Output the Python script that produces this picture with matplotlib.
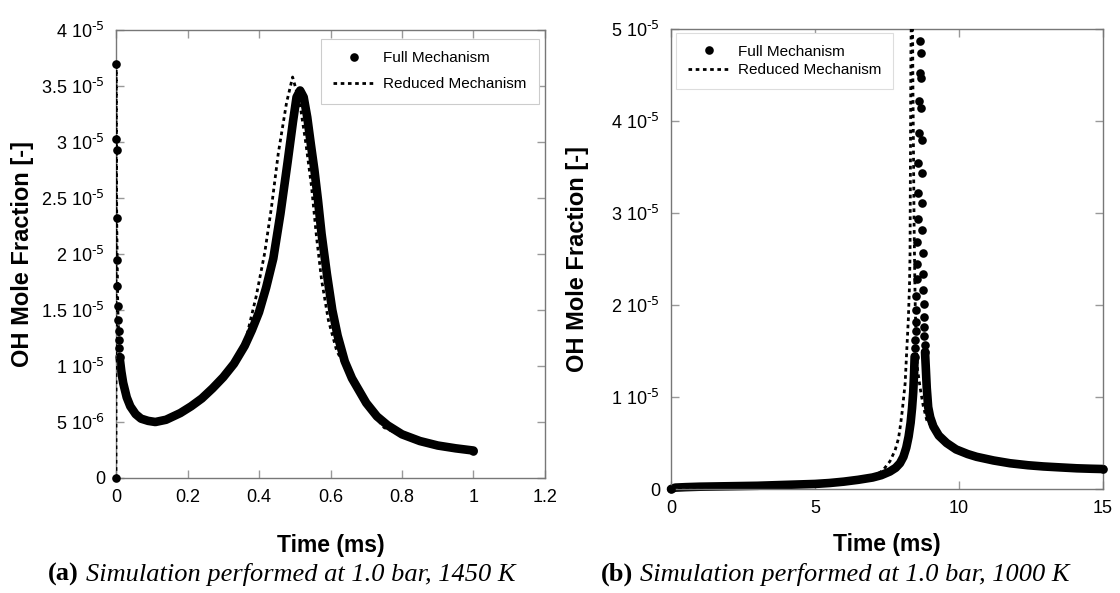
import numpy as np
import matplotlib.pyplot as plt

plt.rcParams['font.family'] = ['Liberation Sans', 'DejaVu Sans']
plt.rcParams['mathtext.default'] = 'regular'
NARROW = ['Liberation Sans Narrow', 'Liberation Sans', 'DejaVu Sans']

# ---- (a) 1.0 bar, 1450 K  (time in ms, OH in units of 1e-5) ----
full_a_t = [0, 0.0005, 0.001, 0.0015, 0.002, 0.003, 0.004, 0.005, 0.006, 0.007, 0.008, 0.009,
            0.010, 0.015, 0.02, 0.03, 0.04, 0.055, 0.07, 0.09, 0.11, 0.14, 0.18, 0.21, 0.24,
            0.27, 0.30, 0.33, 0.36, 0.38, 0.40, 0.42, 0.44, 0.46, 0.48, 0.495, 0.505, 0.515,
            0.525, 0.535, 0.545, 0.555, 0.565, 0.575, 0.59, 0.605, 0.62, 0.64, 0.66, 0.68,
            0.70, 0.73, 0.76, 0.80, 0.85, 0.90, 0.95, 1.0]
full_a_y = [0, 3.70, 3.03, 2.93, 2.32, 1.95, 1.71, 1.54, 1.41, 1.31, 1.23, 1.16,
            1.08, 0.95, 0.85, 0.72, 0.64, 0.57, 0.53, 0.51, 0.50, 0.52, 0.58, 0.64, 0.71,
            0.80, 0.90, 1.02, 1.18, 1.32, 1.48, 1.70, 1.96, 2.36, 2.82, 3.18, 3.40, 3.46,
            3.40, 3.22, 2.98, 2.75, 2.48, 2.18, 1.82, 1.50, 1.27, 1.04, 0.89, 0.78,
            0.67, 0.55, 0.47, 0.39, 0.33, 0.29, 0.265, 0.245]
dense_a = (12, len(full_a_t))  # index range where the dots merge into a solid band

red_a_t = [0, 0.0005, 0.002, 0.005, 0.01, 0.02, 0.04, 0.07, 0.11, 0.16, 0.20, 0.235, 0.28,
           0.327, 0.365, 0.392, 0.416, 0.435, 0.454, 0.477, 0.494, 0.514, 0.531, 0.547,
           0.561, 0.575, 0.594, 0.617, 0.654, 0.70, 0.75, 0.80, 0.90, 1.0]
red_a_y = [0, 3.68, 2.30, 1.52, 1.06, 0.84, 0.63, 0.53, 0.50, 0.55, 0.62, 0.70, 0.845,
           1.02, 1.26, 1.62, 2.01, 2.42, 2.90, 3.35, 3.58, 3.35, 2.99, 2.60,
           2.15, 1.77, 1.41, 1.14, 0.905, 0.64, 0.45, 0.38, 0.29, 0.245]

# ---- (b) 1.0 bar, 1000 K ----
full_b_t = [0, 0.15, 0.5, 1, 2, 3, 4, 5, 5.5, 6, 6.5, 7, 7.3, 7.6, 7.8, 7.95, 8.07, 8.17,
            8.25, 8.32, 8.37, 8.41, 8.44, 8.46,
            8.47, 8.48, 8.49, 8.50, 8.51, 8.52, 8.53, 8.54, 8.55, 8.56, 8.575, 8.59, 8.60,
            8.615, 8.63, 8.645,
            8.675, 8.685, 8.69, 8.70, 8.71, 8.72, 8.73, 8.74, 8.75, 8.76, 8.77, 8.78, 8.79,
            8.80, 8.81, 8.82,
            8.85, 8.88, 8.93, 9.0, 9.11, 9.3, 9.57, 9.9, 10.3, 10.61, 11.2, 11.77, 12.4,
            12.93, 13.5, 14.09, 14.6, 15.0]
full_b_y = [0, 0.015, 0.02, 0.025, 0.03, 0.035, 0.045, 0.055, 0.065, 0.08, 0.10, 0.125, 0.15,
            0.19, 0.23, 0.28, 0.35, 0.45, 0.57, 0.72, 0.88, 1.05, 1.25, 1.44,
            1.53, 1.62, 1.72, 1.82, 1.95, 2.10, 2.28, 2.45, 2.68, 2.93, 3.22, 3.54, 3.87,
            4.22, 4.52, 4.87,
            4.74, 4.47, 4.14, 3.79, 3.43, 3.11, 2.82, 2.57, 2.34, 2.16, 2.01, 1.87, 1.76,
            1.66, 1.57, 1.49,
            1.30, 1.10, 0.89, 0.78, 0.68, 0.58, 0.50, 0.43, 0.38, 0.35, 0.31, 0.28, 0.258,
            0.245, 0.235, 0.225, 0.22, 0.217]
dense_b = [(0, 24), (55, len(full_b_t))]

red_b_t = [0, 0.5, 2, 4, 5, 6, 6.5, 7.0, 7.35, 7.6, 7.78, 7.9, 7.97, 8.03, 8.08, 8.13, 8.18,
           8.24, 8.28, 8.30, 8.31, 8.32, 8.33, 8.36, 8.39, 8.40, 8.42, 8.44, 8.46, 8.48,
           8.51, 8.56, 8.65, 8.76, 8.88, 9.0, 9.11, 9.3, 9.57, 10.3, 11.2, 12.4, 14.09, 15.0]
red_b_y = [0, 0.02, 0.03, 0.045, 0.055, 0.08, 0.10, 0.13, 0.20, 0.30, 0.42, 0.55, 0.70, 0.85,
           1.0, 1.15, 1.47, 1.84, 2.2, 2.56, 3.29, 4.01, 4.74, 5.6, 4.92, 4.37, 3.65, 2.9,
           2.4, 2.0, 1.6, 1.3, 1.10, 0.90, 0.75, 0.70, 0.66, 0.58, 0.50, 0.38, 0.31, 0.258,
           0.225, 0.217]


def sci_label(v, pos):
    if v == 0:
        return '0'
    e = int(np.floor(np.log10(v) + 1e-9))
    m = round(v / 10.0 ** e, 3)
    return '%g 10$^{\\text{%d}}$' % (m, e)


def draw_panel(ax, t, y, spans, rt, ry):
    t = np.array(t)
    y = np.array(y) * 1e-5
    sparse = np.ones(len(t), dtype=bool)
    for i0, i1 in spans:
        # dots packed so closely they read as one thick band
        ax.plot(t[i0:i1], y[i0:i1], color='black', lw=6.2, solid_capstyle='round',
                solid_joinstyle='round', clip_on=False, zorder=2)
        sparse[i0 + 1:i1 - 1] = False
    ax.plot(t[sparse], y[sparse], 'o', color='black', ms=6.2, mew=0, clip_on=False, zorder=3,
            label='Full Mechanism')
    ax.plot(rt, np.array(ry) * 1e-5, color='black', lw=2.0, linestyle=(0, (1.3, 1.3)),
            zorder=4, label='Reduced Mechanism')

    for s in ax.spines.values():
        s.set_color('#777777')
        s.set_linewidth(1.0)
    ax.tick_params(direction='in', length=6, width=1, color='#999999', top=True, right=True,
                   labelsize=13, pad=8)
    ax.yaxis.set_major_formatter(plt.FuncFormatter(sci_label))
    ax.xaxis.set_major_formatter(plt.FuncFormatter(lambda v, p: '%g' % v))
    ax.set_ylabel('OH Mole Fraction [-]', fontfamily=NARROW, fontweight='bold', fontsize=17)
    ax.set_xlabel('Time (ms)', fontfamily=NARROW, fontweight='bold', fontsize=16.5)


W, H = 1120, 593
fig = plt.figure(figsize=(W / 100, H / 100), dpi=100)

ax1 = fig.add_axes([116 / W, 1 - 478 / H, 429 / W, 448 / H])
draw_panel(ax1, full_a_t, full_a_y, [dense_a], red_a_t, red_a_y)
ax1.set_xlim(0, 1.2)
ax1.set_ylim(0, 4e-5)
ax1.set_xticks(np.arange(0, 1.21, 0.2))
ax1.set_yticks(np.arange(0, 4.01e-5, 0.5e-5))
ax1.yaxis.set_label_coords(-0.19, 0.5)
ax1.xaxis.set_label_coords(0.5, -0.125)
leg1 = ax1.legend(loc='upper right', bbox_to_anchor=(0.986, 0.98), prop={'family': NARROW, 'size': 11},
                  fancybox=False, edgecolor='#cccccc', framealpha=1, handlelength=2.8,
                  labelspacing=0.8, borderpad=0.8, handletextpad=0.5, borderaxespad=0)
leg1.get_frame().set_linewidth(0.8)

ax2 = fig.add_axes([671 / W, 1 - 489 / H, 432 / W, 460 / H])
draw_panel(ax2, full_b_t, full_b_y, dense_b, red_b_t, red_b_y)
ax2.set_xlim(0, 15)
ax2.set_ylim(0, 5e-5)
ax2.set_xticks([0, 5, 10, 15])
ax2.set_yticks(np.arange(0, 5.01e-5, 1e-5))
ax2.yaxis.set_label_coords(-0.19, 0.5)
ax2.xaxis.set_label_coords(0.5, -0.095)
leg2 = ax2.legend(loc='upper left', bbox_to_anchor=(0.012, 0.991), prop={'family': NARROW, 'size': 11},
                  fancybox=False, edgecolor='#dddddd', framealpha=1, handlelength=2.8,
                  labelspacing=0.3, borderpad=0.75, handletextpad=0.5, borderaxespad=0)
leg2.get_frame().set_linewidth(0.8)

# sub-captions: bold tag followed by italic text
renderer = fig.canvas.get_renderer()
captions = [(48, '(a)', 'Simulation performed at 1.0 bar, 1450 K'),
            (601, '(b)', 'Simulation performed at 1.0 bar, 1000 K')]
for x0, tag, text in captions:
    tg = fig.text(x0 / W, 1 - 581 / H, tag, fontfamily='Liberation Serif', fontweight='bold',
                  fontsize=19, va='baseline')
    bb = tg.get_window_extent(renderer)
    fig.text((bb.x1 + 7) / W, 1 - 581 / H, text, fontfamily='Liberation Serif', style='italic',
             fontsize=19, va='baseline')

fig.savefig('out.png', dpi=100)
